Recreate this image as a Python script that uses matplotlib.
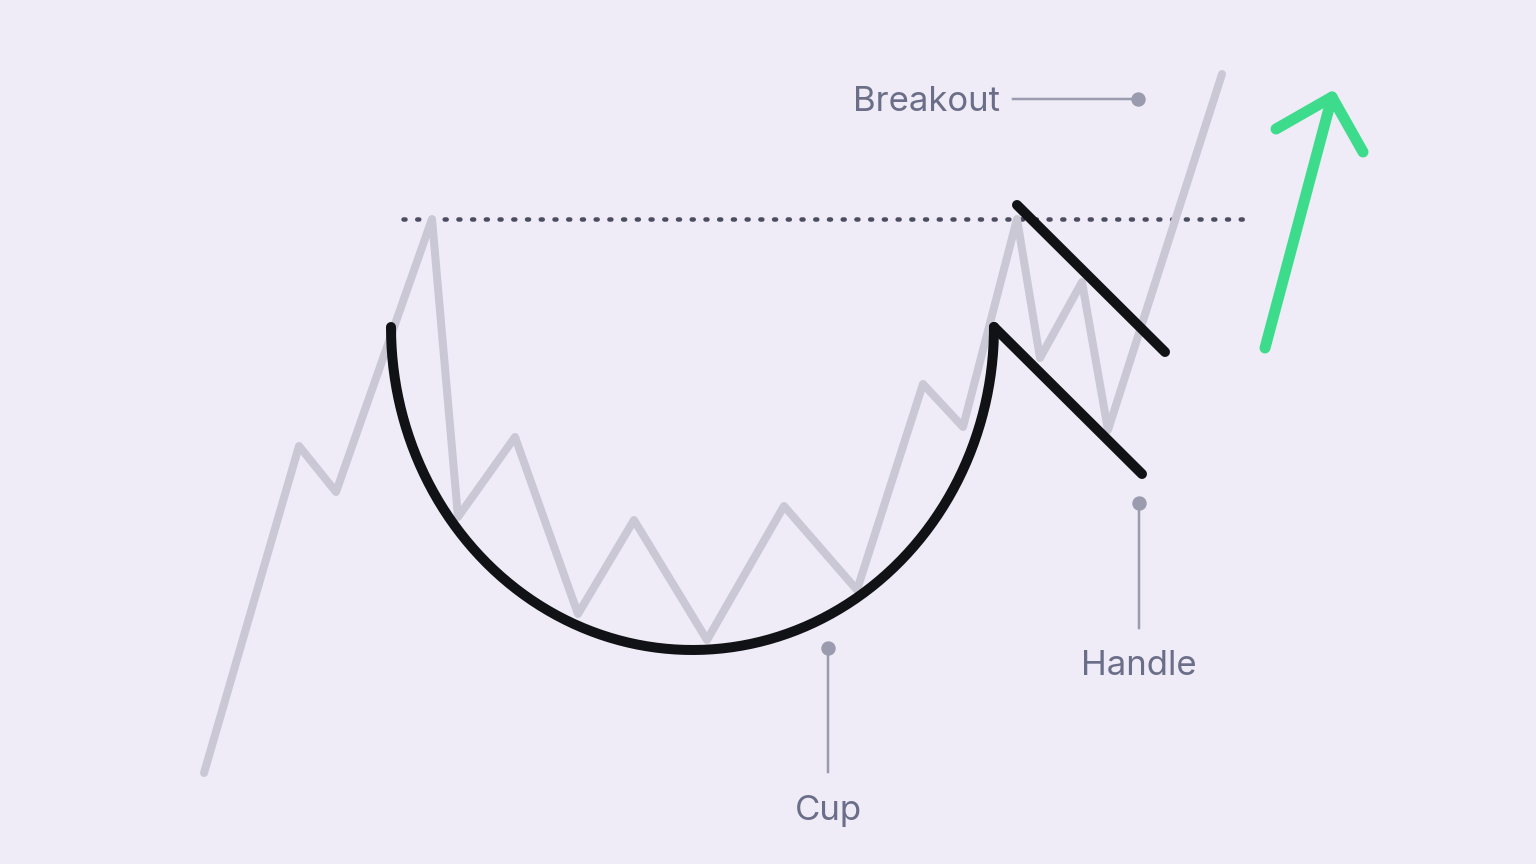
import numpy as np
import matplotlib.pyplot as plt

# price path (pixel coords, y down)
price_x = [204, 299, 336, 432, 458, 515, 578, 634, 707, 784, 857, 923, 963, 1017, 1040, 1082, 1108, 1222]
price_y = [773, 446, 492, 219, 517, 437, 614, 520, 640, 506, 590, 384, 427, 219, 358, 282, 430, 74]

# cup: half ellipse
cup_left, cup_right = 391, 994
cup_top, cup_bottom = 327, 650

# handle channel
handle_low_x = [994, 1142]
handle_low_y = [327, 474]
handle_high_x = [1017, 1165]
handle_high_y = [205, 352]

resist_y = 219
resist_x = [403, 1243]

arrow_x = [1265, 1332]
arrow_y = [348, 97]
head_left = (1276, 129)
head_right = (1363, 152)

bg = '#efecf7'
gray = '#c9c8d4'
dark = '#111216'
green = '#3ddc8c'
label_c = '#6b6e88'
callout_c = '#9a9bae'

plt.rcParams['font.family'] = ['Inter', 'DejaVu Sans']

fig = plt.figure(figsize=(15.36, 8.64), dpi=100, facecolor=bg)
ax = fig.add_axes([0, 0, 1, 1])
ax.set_facecolor(bg)
ax.set_xlim(0, 1536)
ax.set_ylim(864, 0)
ax.axis('off')

px = 72 / 100  # pixels -> points

# dotted resistance line (under the price line)
ax.plot(resist_x, [resist_y, resist_y], color='#4b4c60', lw=4.5 * px, ls=(0, (0.45, 2.6)),
        dash_capstyle='round', zorder=1)

ax.plot(price_x, price_y, color=gray, lw=8 * px, solid_capstyle='round', solid_joinstyle='round', zorder=2)

t = np.linspace(0, np.pi, 300)
cx = (cup_left + cup_right) / 2
a = (cup_right - cup_left) / 2
b = cup_bottom - cup_top
ax.plot(cx - a * np.cos(t), cup_top + b * np.sin(t), color=dark, lw=10 * px,
        solid_capstyle='round', zorder=3)

ax.plot(handle_low_x, handle_low_y, color=dark, lw=10 * px, solid_capstyle='round', zorder=3)
ax.plot(handle_high_x, handle_high_y, color=dark, lw=10 * px, solid_capstyle='round', zorder=3)

# green arrow
ax.plot(arrow_x, arrow_y, color=green, lw=11 * px, solid_capstyle='round', zorder=3)
ax.plot([head_left[0], arrow_x[1], head_right[0]], [head_left[1], arrow_y[1], head_right[1]],
        color=green, lw=11 * px, solid_capstyle='round', solid_joinstyle='round', zorder=3)

# callouts
fs = 25
ax.plot([1013, 1138], [99, 99], color=callout_c, lw=2.5 * px)
ax.plot(1138, 99, 'o', color=callout_c, ms=13 * px)
ax.text(1000, 102, 'Breakout', color=label_c, fontsize=fs, ha='right', va='center')

ax.plot([1139, 1139], [503, 628], color=callout_c, lw=2.5 * px)
ax.plot(1139, 503, 'o', color=callout_c, ms=13 * px)
ax.text(1139, 666, 'Handle', color=label_c, fontsize=fs, ha='center', va='center')

ax.plot([828, 828], [648, 772], color=callout_c, lw=2.5 * px)
ax.plot(828, 648, 'o', color=callout_c, ms=13 * px)
ax.text(828, 811, 'Cup', color=label_c, fontsize=fs, ha='center', va='center')

fig.savefig('out.png', dpi=100, facecolor=bg)
